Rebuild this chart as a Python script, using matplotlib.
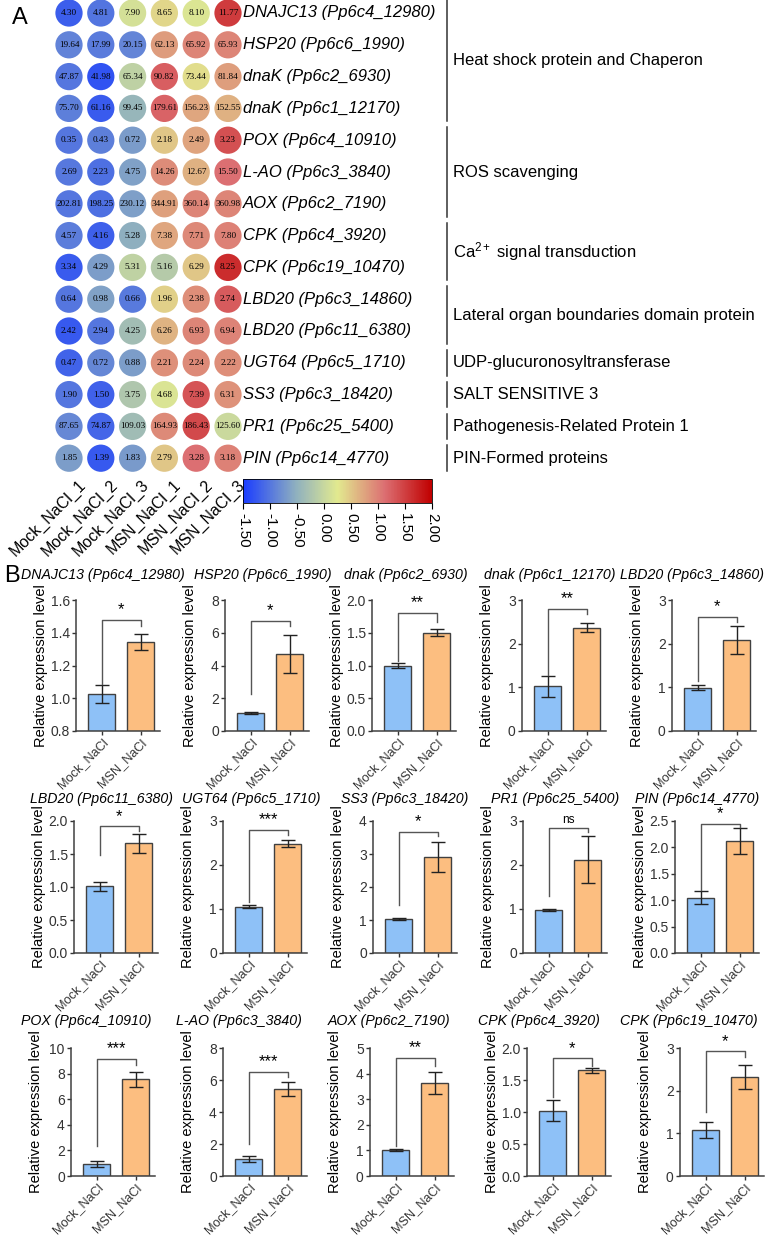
import numpy as np
import matplotlib
matplotlib.use('Agg')
import matplotlib.pyplot as plt
from matplotlib.colors import LinearSegmentedColormap, Normalize
from matplotlib.cm import ScalarMappable

plt.rcParams['font.family'] = ['Liberation Sans', 'DejaVu Sans']
plt.rcParams['axes.unicode_minus'] = False
plt.rcParams['mathtext.fontset'] = 'custom'
plt.rcParams['mathtext.rm'] = 'Liberation Sans'
plt.rcParams['mathtext.it'] = 'Liberation Sans:italic'

# ---- panel A data ----
samples = ['Mock_NaCl_1', 'Mock_NaCl_2', 'Mock_NaCl_3', 'MSN_NaCl_1', 'MSN_NaCl_2', 'MSN_NaCl_3']
genes = ['DNAJC13', 'HSP20', 'dnaK', 'dnaK', 'POX', 'L-AO', 'AOX', 'CPK', 'CPK',
         'LBD20', 'LBD20', 'UGT64', 'SS3', 'PR1', 'PIN']
gene_ids = ['Pp6c4_12980', 'Pp6c6_1990', 'Pp6c2_6930', 'Pp6c1_12170', 'Pp6c4_10910',
            'Pp6c3_3840', 'Pp6c2_7190', 'Pp6c4_3920', 'Pp6c19_10470', 'Pp6c3_14860',
            'Pp6c11_6380', 'Pp6c5_1710', 'Pp6c3_18420', 'Pp6c25_5400', 'Pp6c14_4770']
expr = [
    [4.30, 4.81, 7.90, 8.65, 8.10, 11.77],
    [19.64, 17.99, 20.15, 62.13, 65.92, 65.93],
    [47.87, 41.98, 65.34, 90.82, 73.44, 81.84],
    [75.70, 61.16, 99.45, 179.61, 156.23, 152.55],
    [0.35, 0.43, 0.72, 2.18, 2.49, 3.23],
    [2.69, 2.23, 4.75, 14.26, 12.67, 15.50],
    [202.81, 198.25, 230.12, 344.91, 360.14, 360.98],
    [4.57, 4.16, 5.28, 7.38, 7.71, 7.80],
    [3.34, 4.29, 5.31, 5.16, 6.29, 8.25],
    [0.64, 0.98, 0.66, 1.96, 2.38, 2.74],
    [2.42, 2.94, 4.25, 6.26, 6.93, 6.94],
    [0.47, 0.72, 0.88, 2.21, 2.24, 2.22],
    [1.90, 1.50, 3.75, 4.68, 7.39, 6.31],
    [87.65, 74.87, 109.03, 164.93, 186.43, 125.60],
    [1.85, 1.39, 1.83, 2.79, 3.28, 3.18],
]
groups = ['Heat shock protein and Chaperon', 'ROS scavenging', 'Ca$^{2+}$ signal transduction',
          'Lateral organ boundaries domain protein', 'UDP-glucuronosyltransferase',
          'SALT SENSITIVE 3', 'Pathogenesis-Related Protein 1', 'PIN-Formed proteins']
group_first = [0, 4, 7, 9, 11, 12, 13, 14]
group_last = [3, 6, 8, 10, 11, 12, 13, 14]
cbar_ticks = [-1.5, -1.0, -0.5, 0.0, 0.5, 1.0, 1.5, 2.0]

# ---- panel B data ----
bar_genes = ['DNAJC13', 'HSP20', 'dnak', 'dnak', 'LBD20', 'LBD20', 'UGT64', 'SS3', 'PR1', 'PIN',
             'POX', 'L-AO', 'AOX', 'CPK', 'CPK']
bar_ids = ['Pp6c4_12980', 'Pp6c6_1990', 'Pp6c2_6930', 'Pp6c1_12170', 'Pp6c3_14860',
           'Pp6c11_6380', 'Pp6c5_1710', 'Pp6c3_18420', 'Pp6c25_5400', 'Pp6c14_4770',
           'Pp6c4_10910', 'Pp6c3_3840', 'Pp6c2_7190', 'Pp6c4_3920', 'Pp6c19_10470']
conditions = ['Mock_NaCl', 'MSN_NaCl']
mock_mean = [1.025, 1.10, 1.00, 1.02, 0.99, 1.01, 1.055, 1.04, 0.98, 1.05, 0.95, 1.06, 1.02, 1.02, 1.08]
mock_err = [0.055, 0.05, 0.035, 0.25, 0.055, 0.07, 0.03, 0.03, 0.03, 0.12, 0.22, 0.20, 0.03, 0.16, 0.18]
msn_mean = [1.345, 4.70, 1.50, 2.37, 2.08, 1.66, 2.48, 2.90, 2.12, 2.12, 7.55, 5.45, 3.64, 1.65, 2.32]
msn_err = [0.05, 1.15, 0.05, 0.11, 0.32, 0.15, 0.08, 0.46, 0.53, 0.24, 0.56, 0.45, 0.43, 0.045, 0.29]
sig = ['*', '*', '**', '**', '*', '*', '***', '*', 'ns', '*', '***', '***', '**', '*', '*']
ymin = [0.8, 0, 0, 0, 0, 0, 0, 0, 0, 0, 0, 0, 0, 0, 0]
ymax = [1.6, 8, 2.0, 3, 3, 2.0, 3, 4, 3, 2.5, 10, 8, 5, 2.0, 3]
ystep = [0.2, 2, 0.5, 1, 1, 0.5, 1, 1, 1, 0.5, 2, 2, 1, 0.5, 1]
bracket_y = [1.48, 6.74, 1.80, 2.79, 2.61, 1.92, 2.80, 3.67, 2.83, 2.44, 9.15, 6.52, 4.61, 1.84, 2.92]
left_leg = [1.09, 2.26, 1.07, 1.29, 1.14, 1.48, 1.17, 1.45, 1.30, 1.20, 2.36, 1.98, 1.17, 1.24, 1.50]
right_leg = [1.44, 6.43, 1.67, 2.67, 2.50, 1.85, 2.69, 3.55, 2.74, 2.38, 8.70, 6.20, 4.30, 1.72, 2.80]

W, H = 767, 1238
fig = plt.figure(figsize=(W / 100, H / 100), dpi=100)


def box(x0, y0, x1, y1):
    return [x0 / W, 1 - y1 / H, (x1 - x0) / W, (y1 - y0) / H]


cmap = LinearSegmentedColormap.from_list(
    'bwr_tb', [(0, '#1a3cff'), (0.28, '#8fb0bf'), (0.5, '#e2ea8f'),
               (0.75, '#dc6f72'), (1.0, '#c00000')])
norm = Normalize(-1.5, 2.0)

# ---- heatmap ----
vals = np.array(expr)
z = (vals - vals.mean(axis=1, keepdims=True)) / vals.std(axis=1, ddof=1, keepdims=True)
step = 31.8
ax = fig.add_axes(box(69 - step / 2, 13 - step / 2, 69 + 5.5 * step, 13 + 14.5 * step))
ax.set_xlim(-0.5, 5.5)
ax.set_ylim(14.5, -0.5)
ax.axis('off')
cols, rows = np.meshgrid(np.arange(len(samples)), np.arange(len(genes)))
ax.scatter(cols.ravel(), rows.ravel(), s=385, c=cmap(norm(z.ravel())), linewidths=0)
for i in range(len(genes)):
    for j in range(len(samples)):
        ax.text(j, i, '%.2f' % vals[i, j], ha='center', va='center', fontsize=6.6,
                family='Liberation Serif')
    ax.text(5.47, i, '%s (%s)' % (genes[i], gene_ids[i]), ha='left', va='center',
            fontsize=12, style='italic')
for j, s in enumerate(samples):
    ax.text(j + 0.28, 14.6, s, rotation=45, rotation_mode='anchor', ha='right', va='top',
            fontsize=11.5, clip_on=False)
for g, a, b in zip(groups, group_first, group_last):
    ax.plot([11.9, 11.9], [a - 0.4, b + 0.4], color='#333333', lw=1.1, clip_on=False)
    ax.text(12.06, (a + b) / 2, g, ha='left', va='center', fontsize=12, clip_on=False)

cax = fig.add_axes(box(243, 479, 432, 503))
cb = fig.colorbar(ScalarMappable(norm=norm, cmap=cmap), cax=cax, orientation='horizontal')
cb.set_ticks(cbar_ticks)
cb.set_ticklabels(['%.2f' % t for t in cbar_ticks])
cax.tick_params(labelsize=11, length=4, width=0.8, labelrotation=270)
cb.outline.set_linewidth(0.6)

fig.text(12 / W, 1 - 18 / H, 'A', fontsize=17, va='center')
fig.text(4 / W, 1 - 576 / H, 'B', fontsize=17, va='center')

# ---- bar panels ----
row_tb = [(600, 731), (821, 953), (1048, 1176)]
row_title = [575, 799, 1021]
row_left = [[76, 225, 372, 522, 672], [74, 223, 373, 523, 675], [71, 223, 370, 527, 680]]
title_left = [[21, 194, 344, 484, 620], [30, 182, 341, 491, 635], [21, 176, 328, 478, 620]]
panel_w = 84
for k in range(len(bar_genes)):
    r, c = divmod(k, 5)
    x0 = row_left[r][c]
    top, bot = row_tb[r]
    ax = fig.add_axes(box(x0, top, x0 + panel_w, bot))
    ax.bar([0, 1], [mock_mean[k], msn_mean[k]], width=0.68,
           color=['#8ec1f7', '#fcbe80'], edgecolor='#404040', linewidth=1,
           yerr=[mock_err[k], msn_err[k]], capsize=5,
           error_kw=dict(elinewidth=1, capthick=1, ecolor='#222222'))
    ax.set_xlim(-0.66, 1.5)
    ax.set_ylim(ymin[k], ymax[k])
    ticks = np.arange(ymin[k], ymax[k] + ystep[k] / 2, ystep[k])
    ax.set_yticks(ticks)
    if ystep[k] < 1:
        ax.set_yticklabels(['%.1f' % t for t in ticks])
    else:
        ax.set_yticklabels(['%d' % t for t in ticks])
    ax.set_xticks([0, 1])
    ax.set_xticklabels(conditions, rotation=45, ha='right', rotation_mode='anchor', fontsize=9.2)
    ax.tick_params(axis='y', labelsize=10, length=3, width=1, colors='#333333', pad=1.5)
    ax.tick_params(axis='x', length=3, width=1, colors='#333333', pad=1)
    for sp in ['top', 'right']:
        ax.spines[sp].set_visible(False)
    for sp in ['left', 'bottom']:
        ax.spines[sp].set_color('#404040')
        ax.spines[sp].set_linewidth(1.1)
    ax.set_ylabel('Relative expression level', fontsize=10.5)
    ax.yaxis.set_label_coords(-0.33, 0.5)
    ax.plot([0, 0, 1, 1], [left_leg[k], bracket_y[k], bracket_y[k], right_leg[k]],
            color='#555555', lw=1, clip_on=False)
    ax.text(0.5, bracket_y[k] + (ymax[k] - ymin[k]) * 0.02, sig[k], ha='center', va='bottom',
            fontsize=8.5 if sig[k] == 'ns' else 12, clip_on=False)
    fig.text(title_left[r][c] / W, 1 - row_title[r] / H, '%s (%s)' % (bar_genes[k], bar_ids[k]),
             ha='left', va='center', fontsize=10.2, style='italic')

fig.savefig('out.png', dpi=100)
